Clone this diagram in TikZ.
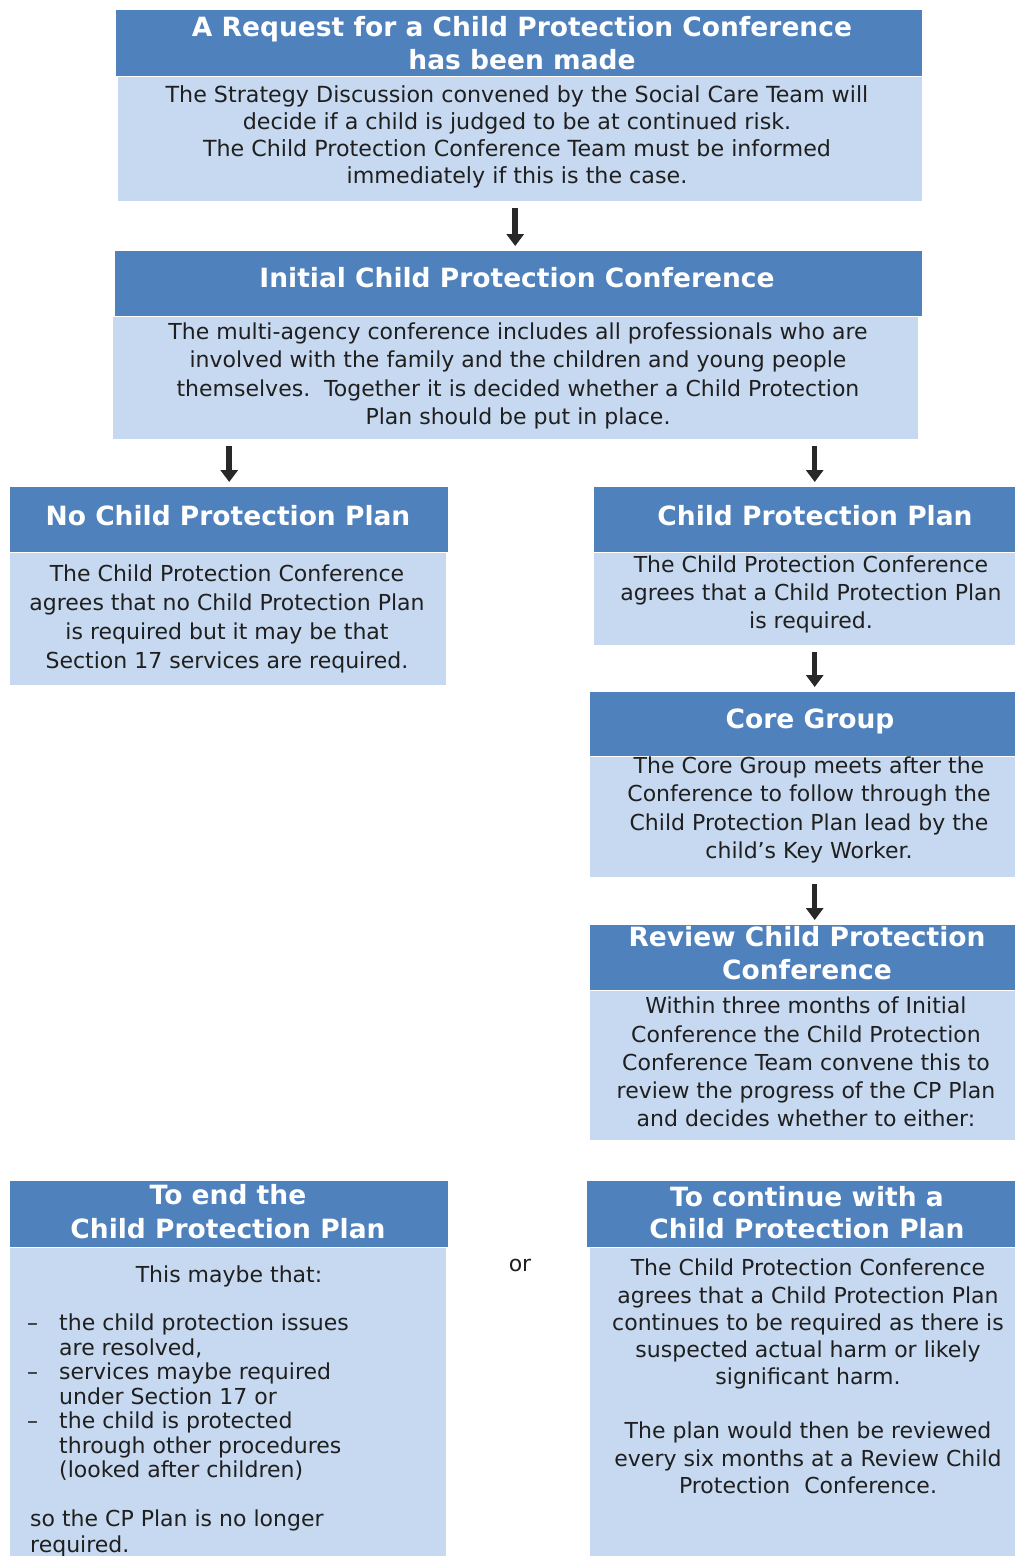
\documentclass[tikz,border=0pt]{standalone}
\usepackage{fontspec}
\setmainfont{DejaVu Sans}
\usetikzlibrary{arrows.meta}
\definecolor{hdrblue}{RGB}{79,129,189}
\definecolor{bodyblue}{RGB}{198,217,240}
\definecolor{arrgray}{RGB}{40,40,40}
\tikzset{
 hdr/.style={fill=hdrblue, inner sep=0pt, anchor=north west},
 hdrtext/.style={text=white, font=\fontsize{26.5}{33}\selectfont\bfseries, align=center, inner sep=0pt},
 bodybox/.style={fill=bodyblue, inner sep=0pt, anchor=north west},
 bodytext/.style={text=black!88, align=center, inner sep=0pt},
 arr/.style={draw=arrgray, line width=5.5pt, -{Triangle[width=17pt,length=12pt]}, shorten <=7pt, shorten >=5pt},
}
\begin{document}
\begin{tikzpicture}[x=1pt,y=-1pt]
\useasboundingbox[fill=white] (0,0) rectangle (1015,1556);

% Box 1
\node[hdr, minimum width=806pt, minimum height=66pt] (h1) at (116,10) {};
\node[hdrtext] (ht1) at (522,43) {A Request for a Child Protection Conference\\has been made};
\node[bodybox, minimum width=804pt, minimum height=124pt] (b1) at (118,77) {};
\node[bodytext, font=\fontsize{22.2}{27}\selectfont] (t1) at (517,137) {The Strategy Discussion convened by the Social Care Team will\\decide if a child is judged to be at continued risk.\\The Child Protection Conference Team must be informed\\immediately if this is the case.};

% Box 2
\node[hdr, minimum width=807pt, minimum height=65pt] (h2) at (115,251) {};
\node[hdrtext, text height=19pt, text depth=0pt] (ht2) at (517,278) {Initial Child Protection Conference};
\node[bodybox, minimum width=805pt, minimum height=122pt] (b2) at (113,317) {};
\node[bodytext, font=\fontsize{22}{28.5}\selectfont] (t2) at (518,376) {The multi-agency conference includes all professionals who are\\involved with the family and the children and young people\\themselves.\ \ Together it is decided whether a Child Protection\\Plan should be put in place.};

% Box 3
\node[hdr, minimum width=438pt, minimum height=65pt] (h3) at (10,487) {};
\node[hdrtext, text height=19pt, text depth=0pt] (ht3) at (228,516) {No Child Protection Plan};
\node[bodybox, minimum width=436pt, minimum height=132pt] (b3) at (10,553) {};
\node[bodytext, font=\fontsize{22}{29}\selectfont] (t3) at (227,619) {The Child Protection Conference\\agrees that no Child Protection Plan\\is required but it may be that\\Section 17 services are required.};

% Box 4
\node[hdr, minimum width=421pt, minimum height=65pt] (h4) at (594,487) {};
\node[hdrtext, text height=19pt, text depth=0pt] (ht4) at (815,516) {Child Protection Plan};
\node[bodybox, minimum width=421pt, minimum height=92pt] (b4) at (594,553) {};
\node[bodytext, font=\fontsize{22}{28}\selectfont] (t4) at (811,594) {The Child Protection Conference\\agrees that a Child Protection Plan\\is required.};

% Box 5
\node[hdr, minimum width=425pt, minimum height=64pt] (h5) at (590,692) {};
\node[hdrtext, text height=19pt, text depth=0pt] (ht5) at (810,719) {Core Group};
\node[bodybox, minimum width=425pt, minimum height=120pt] (b5) at (590,757) {};
\node[bodytext, font=\fontsize{22}{28.5}\selectfont] (t5) at (809,810) {The Core Group meets after the\\Conference to follow through the\\Child Protection Plan lead by the\\child’s Key Worker.};

% Box 6
\node[hdr, minimum width=425pt, minimum height=65pt] (h6) at (590,925) {};
\node[hdrtext] (ht6) at (807,953) {Review Child Protection\\Conference};
\node[bodybox, minimum width=425pt, minimum height=149pt] (b6) at (590,991) {};
\node[bodytext, font=\fontsize{22}{28.2}\selectfont] (t6) at (806,1062) {Within three months of Initial\\Conference the Child Protection\\Conference Team convene this to\\review the progress of the CP Plan\\and decides whether to either:};

% Box 7
\node[hdr, minimum width=438pt, minimum height=66pt] (h7) at (10,1181) {};
\node[hdrtext, font=\fontsize{26.5}{34}\selectfont\bfseries] (ht7) at (228,1212) {To end the\\Child Protection Plan};
\node[bodybox, minimum width=436pt, minimum height=308pt] (b7) at (10,1248) {};
\node[bodytext, font=\fontsize{22}{26}\selectfont] (t7a) at (229,1276) {This maybe that:};
\node[bodytext, font=\fontsize{22}{24.5}\selectfont, align=left, anchor=north west] (t7b) at (27,1314) {\makebox[32pt][l]{–}the child protection issues\\
\hspace*{32pt}are resolved,\\
\makebox[32pt][l]{–}services maybe required\\
\hspace*{32pt}under Section 17 or\\
\makebox[32pt][l]{–}the child is protected\\
\hspace*{32pt}through other procedures\\
\hspace*{32pt}(looked after children)};
\node[bodytext, font=\fontsize{22}{26}\selectfont, align=left, anchor=north west] (t7c) at (30,1510) {so the CP Plan is no longer\\required.};

% Box 8
\node[hdr, minimum width=428pt, minimum height=66pt] (h8) at (587,1181) {};
\node[hdrtext, font=\fontsize{26.5}{32}\selectfont\bfseries] (ht8) at (807,1213) {To continue with a\\Child Protection Plan};
\node[bodybox, minimum width=425pt, minimum height=308pt] (b8) at (590,1248) {};
\node[bodytext, font=\fontsize{22}{27.2}\selectfont, anchor=north] (t8) at (808,1259) {The Child Protection Conference\\agrees that a Child Protection Plan\\continues to be required as there is\\suspected actual harm or likely\\significant harm.\\[27pt]The plan would then be reviewed\\every six months at a Review Child\\Protection\ \ Conference.};

% or
\node[font=\fontsize{22}{24}\selectfont, text=black!88] (or) at (520,1265) {or};

% Arrows
\draw[arr] ([xshift=-5pt]b1.south) -- ([xshift=-5pt]b1.south |- h2.north);
\draw[arr] (h3.north |- b2.south) -- (h3.north);
\draw[arr] ([xshift=10pt]h4.north |- b2.south) -- ([xshift=10pt]h4.north);
\draw[arr] ([xshift=12pt]h5.north |- b4.south) -- ([xshift=12pt]h5.north);
\draw[arr] ([xshift=12pt]h6.north |- b5.south) -- ([xshift=12pt]h6.north);
\end{tikzpicture}
\end{document}
